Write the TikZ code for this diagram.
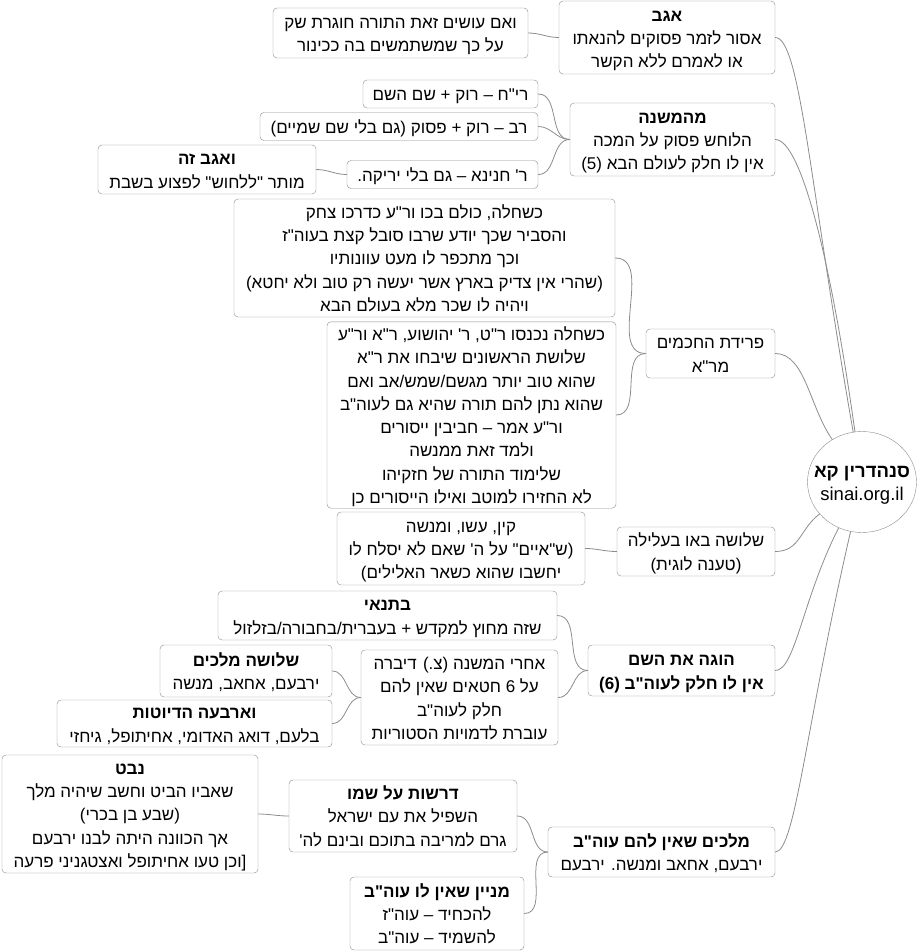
\documentclass[tikz,border=0pt]{standalone}
\usepackage{fontspec}
\setmainfont{Liberation Sans}
\newfontfamily\hebfont[Script=Hebrew,Ligatures=TeXOff]{Liberation Sans}
\usetikzlibrary{shapes.geometric}
\TeXXeTstate=1
\newcommand{\dongdung}{\rule[-4.7pt]{0pt}{23.3pt}}
\newcommand{\rl}[1]{\dongdung\beginR#1\endR}
\definecolor{vienxam}{HTML}{8C8C8C}
\begin{document}
\begin{tikzpicture}[x=1pt,y=-1pt,
				line join = round,line cap = round,
				hcnxam/.style={rectangle,rounded corners=4pt,draw = vienxam,fill = white,align=center,inner xsep=5pt,inner ysep=0pt,font=\hebfont\fontsize{17}{23.3}\selectfont},
				elxam/.style={ellipse,draw = vienxam,fill = white,align=center,inner xsep=-12pt,inner ysep=0pt,font=\hebfont\fontsize{18.5}{23.3}\selectfont},
				noi/.style={draw = vienxam,line width=0.8pt}]
				\useasboundingbox (0,0) rectangle (921,952);
				\node at (862,482) (nodeRoot) [elxam,minimum width=109pt,minimum height=101pt] {\textbf{\rl{סנהדרין קא}}\\\dongdung sinai.org.il};
				\node at (667,37.5) (nodeAgav) [hcnxam,minimum width=216pt,minimum height=73pt] {\textbf{\rl{אגב}}\\\rl{אסור לזמר פסוקים להנאתו}\\\rl{או לאמרם ללא הקשר}};
				\node at (400.5,33) (nodeVeim) [hcnxam,minimum width=255pt,minimum height=50pt] {\rl{ואם עושים זאת התורה חוגרת שק}\\\rl{על כך שמשתמשים בה ככינור}};
				\node at (672.5,139.5) (nodeMishna) [hcnxam,minimum width=205pt,minimum height=73pt] {\textbf{\rl{מהמשנה}}\\\rl{הלוחש פסוק על המכה}\\\rl{אין לו חלק לעולם הבא (5)}};
				\node at (450.5,94) (nodeRich) [hcnxam,minimum width=175pt,minimum height=28pt] {\rl{רי"ח – רוק + שם השם}};
				\node at (399,126.5) (nodeRav) [hcnxam,minimum width=278pt,minimum height=28pt] {\rl{רב – רוק + פסוק (גם בלי שם שמיים)}};
				\node at (442.5,174.5) (nodeChanina) [hcnxam,minimum width=191pt,minimum height=28pt] {\rl{ר' חנינא – גם בלי יריקה.}};
				\node at (207,169.5) (nodeVeagav) [hcnxam,minimum width=218pt,minimum height=49pt] {\textbf{\rl{ואגב זה}}\\\rl{מותר "ללחוש" לפצוע בשבת}};
				\node at (424.5,258) (nodeChala1) [hcnxam,minimum width=381pt,minimum height=118pt] {\rl{כשחלה, כולם בכו ור"ע כדרכו צחק}\\\rl{והסביר שכך יודע שרבו סובל קצת בעוה"ז}\\\rl{וכך מתכפר לו מעט עוונותיו}\\\rl{(שהרי אין צדיק בארץ אשר יעשה רק טוב ולא יחטא)}\\\rl{ויהיה לו שכר מלא בעולם הבא}};
				\node at (471.5,415) (nodeChala2) [hcnxam,minimum width=289pt,minimum height=184pt] {\rl{כשחלה נכנסו ר"ט, ר' יהושוע, ר"א ור"ע}\\\rl{שלושת הראשונים שיבחו את ר"א}\\\rl{שהוא טוב יותר מגשם/שמש/אב ואם}\\\rl{שהוא נתן להם תורה שהיא גם לעוה"ב}\\\rl{ור"ע אמר – חביבין ייסורים}\\\rl{ולמד זאת ממנשה}\\\rl{שלימוד התורה של חזקיהו}\\\rl{לא החזירו למוטב ואילו הייסורים כן}};
				\node at (710.5,353.5) (nodePreida) [hcnxam,minimum width=129pt,minimum height=49pt] {\rl{פרידת החכמים}\\\rl{מר"א}};
				\node at (461,548.5) (nodeKayin) [hcnxam,minimum width=248pt,minimum height=73pt] {\rl{קין, עשו, ומנשה}\\\rl{(ש"איים" על ה' שאם לא יסלח לו}\\\rl{יחשבו שהוא כשאר האלילים)}};
				\node at (696,551.5) (nodeAlila) [hcnxam,minimum width=158pt,minimum height=49pt] {\rl{שלושה באו בעלילה}\\\rl{(טענה לוגית)}};
				\node at (387.5,615.5) (nodeTnai) [hcnxam,minimum width=339pt,minimum height=49pt] {\textbf{\rl{בתנאי}}\\\rl{שזה מחוץ למקדש + בעברית/בחבורה/בזלזול}};
				\node at (681.5,670.5) (nodeHoge) [hcnxam,minimum width=187pt,minimum height=51pt] {\textbf{\rl{הוגה את השם}}\\\textbf{\rl{אין לו חלק לעוה"ב (6)}}};
				\node at (459.5,697.5) (nodeAcharei) [hcnxam,minimum width=197pt,minimum height=95pt] {\rl{אחרי המשנה (צ.) דיברה}\\\rl{על 6 חטאים שאין להם}\\\rl{חלק לעוה"ב}\\\rl{עוברת לדמויות הסטוריות}};
				\node at (246,671) (nodeMelachim3) [hcnxam,minimum width=172pt,minimum height=52pt] {\textbf{\rl{שלושה מלכים}}\\\rl{ירבעם, אחאב, מנשה}};
				\node at (194.5,723.5) (nodeHedyotot) [hcnxam,minimum width=275pt,minimum height=47pt] {\textbf{\rl{וארבעה הדיוטות}}\\\rl{בלעם, דואג האדומי, אחיתופל, גיחזי}};
				\node at (130,814) (nodeNevat) [hcnxam,minimum width=256pt,minimum height=118pt] {\textbf{\rl{נבט}}\\\rl{שאביו הביט וחשב שיהיה מלך}\\\rl{(שבע בן בכרי)}\\\rl{אך הכוונה היתה לבנו ירבעם}\\\rl{[וכן טעו אחיתופל ואצטגניני פרעה}};
				\node at (403,816) (nodeDrashot) [hcnxam,minimum width=228pt,minimum height=72pt] {\textbf{\rl{דרשות על שמו}}\\\rl{השפיל את עם ישראל}\\\rl{גרם למריבה בתוכם ובינם לה'}};
				\node at (661.5,852) (nodeMelachim) [hcnxam,minimum width=227pt,minimum height=50pt] {\textbf{\rl{מלכים שאין להם עוה"ב}}\\\rl{ירבעם, אחאב ומנשה. ירבעם}};
				\node at (437,913.5) (nodeMinyan) [hcnxam,minimum width=174pt,minimum height=73pt] {\textbf{\rl{מניין שאין לו עוה"ב}}\\\rl{להכחיד – עוה"ז}\\\rl{להשמיד – עוה"ב}};
				% nhanh chinh
				\draw[noi] (nodeAgav.east) to[out=0,in=100,out distance=25pt,in distance=250pt] (nodeRoot);
				\draw[noi] (nodeMishna.east) to[out=0,in=98,out distance=25pt,in distance=180pt] (nodeRoot);
				\draw[noi] (nodePreida.east) to[out=0,in=125,out distance=30pt,in distance=40pt] (nodeRoot);
				\draw[noi] (nodeAlila.east) to[out=0,in=217,out distance=25pt,in distance=25pt] (nodeRoot);
				\draw[noi] (nodeHoge.east) to[out=0,in=243,out distance=20pt,in distance=80pt] (nodeRoot);
				\draw[noi] (nodeMelachim.east) to[out=0,in=257,out distance=20pt,in distance=200pt] (nodeRoot);
				% nhanh phu
				\draw[noi] (nodeVeim.east) to[out=0,in=180] (nodeAgav.west);
				\draw[noi] (nodeRich.east) to[out=0,in=180] (nodeMishna.west);
				\draw[noi] (nodeRav.east) to[out=0,in=180] (nodeMishna.west);
				\draw[noi] (nodeChanina.east) to[out=0,in=180] (nodeMishna.west);
				\draw[noi] (nodeVeagav.east) to[out=0,in=180] (nodeChanina.west);
				\draw[noi] (nodeChala1.east) to[out=0,in=180] (nodePreida.west);
				\draw[noi] (nodeChala2.east) to[out=0,in=180] (nodePreida.west);
				\draw[noi] (nodeKayin.east) to[out=0,in=180] (nodeAlila.west);
				\draw[noi] (nodeTnai.east) to[out=0,in=180] (nodeHoge.west);
				\draw[noi] (nodeAcharei.east) to[out=0,in=180] (nodeHoge.west);
				\draw[noi] (nodeMelachim3.east) to[out=0,in=180] (nodeAcharei.west);
				\draw[noi] (nodeHedyotot.east) to[out=0,in=180] (nodeAcharei.west);
				\draw[noi] (nodeNevat.east) to[out=0,in=180] (nodeDrashot.west);
				\draw[noi] (nodeDrashot.east) to[out=0,in=180] (nodeMelachim.west);
				\draw[noi] (nodeMinyan.east) to[out=0,in=180] (nodeMelachim.west);
			\end{tikzpicture}
\end{document}
